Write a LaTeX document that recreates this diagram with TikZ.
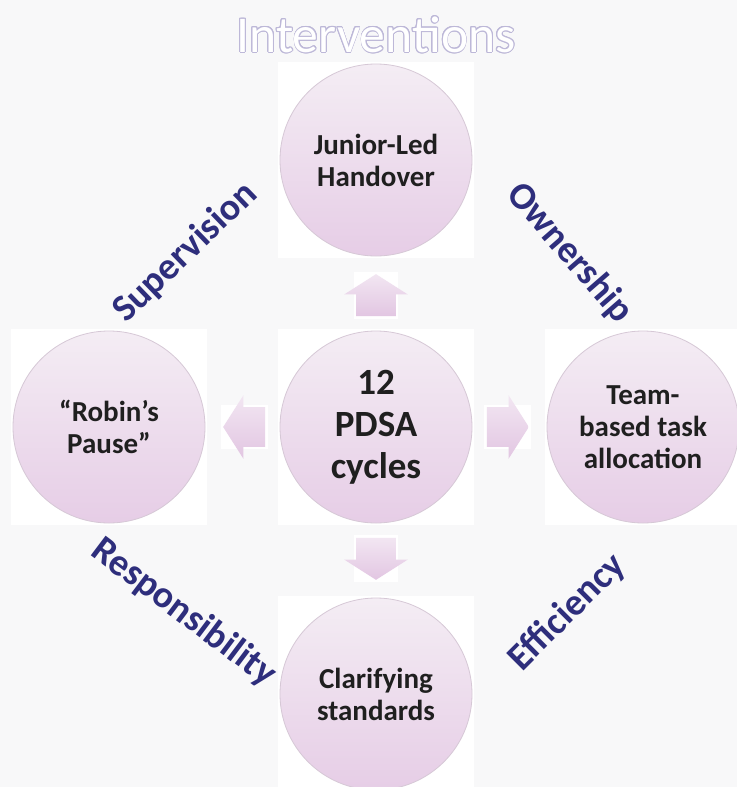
\documentclass[tikz,border=0pt]{standalone}
\usepackage{fontspec}
\setmainfont{Carlito}
\usepackage{xcolor}
\usepackage{contour}
\usetikzlibrary{calc, positioning, fit, backgrounds, shapes.arrows}

\definecolor{bgGrey}{HTML}{F8F8F9}
\definecolor{ballTop}{HTML}{F4EDF4}
\definecolor{ballBot}{HTML}{E6CDE6}
\definecolor{ballRim}{HTML}{D6C8D6}
\definecolor{arrTop}{HTML}{F2E6F2}
\definecolor{arrBot}{HTML}{E2C6E2}
\definecolor{themeNavy}{HTML}{2E2E7C}
\definecolor{titleLine}{HTML}{BDB8D8}
\contourlength{0.45pt}

\tikzset{
  main node/.style={circle, draw=ballRim, line width=0.4pt, top color=ballTop, bottom color=ballBot,
    minimum size=96pt, inner sep=0pt, align=center, text=black!88,
    font=\bfseries\fontsize{14.5}{16}\selectfont},
  block arrow/.style={single arrow, draw=none, top color=arrTop, bottom color=arrBot,
    minimum height=21pt, single arrow head extend=6pt, single arrow tip angle=115},
  flat arrow/.style={block arrow, inner xsep=1pt, inner ysep=9.75pt},
  tall arrow/.style={block arrow, inner xsep=9.75pt, inner ysep=1pt},
  theme label/.style={font=\bfseries\fontsize{19}{21}\selectfont, text=themeNavy},
  white box/.style={fill=white, draw=none, inner sep=1pt}
}

\begin{document}
\begin{tikzpicture}[x=0.5pt, y=-0.5pt, on grid, node distance=133.5pt]
\useasboundingbox (0,0) rectangle (737,787);

\node[main node, font=\bfseries\fontsize{18.5}{21}\selectfont] (hub) at (376,427) {12\\PDSA\\cycles};
\node[main node] (top) [above=of hub] {Junior-Led\\Handover};
\node[main node] (left) [left=of hub] {“Robin’s\\Pause”};
\node[main node] (right) [right=of hub] {Team-\\based task\\allocation};
\node[main node] (bottom) [below=of hub] {Clarifying\\standards};

\node[tall arrow, shape border rotate=90] (upArrow) at ($(hub)!0.47!(top)$) {};
\node[tall arrow, shape border rotate=270] (downArrow) at ($(hub)!0.47!(bottom)$) {};
\node[flat arrow, shape border rotate=180] (leftArrow) at ($(hub)!0.47!(left)$) {};
\node[flat arrow, shape border rotate=0] (rightArrow) at ($(hub)!0.47!(right)$) {};

\node (title) at (376,35) {\fontsize{25.8}{28}\selectfont\contour{titleLine}{\textcolor{white}{Interventions}}};

\node[theme label, rotate=44] (SupLabel) at ($(top)!0.5!(left)+(-57,-41)$) {Supervision};
\node[theme label, rotate=-49] (OwnLabel) at ($(top)!0.5!(right)+(60,-40)$) {Ownership};
\node[theme label, rotate=-37] (ResLabel) at ($(bottom)!0.5!(left)+(-59,52)$) {Responsibility};
\node[theme label, rotate=45] (EffLabel) at ($(bottom)!0.5!(right)+(58,52)$) {Efficiency};

\begin{scope}[on background layer]
  \fill[bgGrey] (0,0) rectangle (737,787);
  \foreach \n in {hub,top,left,right,bottom,upArrow,downArrow,leftArrow,rightArrow}
    \node[white box, fit=(\n)] {};
\end{scope}
\end{tikzpicture}
\end{document}
